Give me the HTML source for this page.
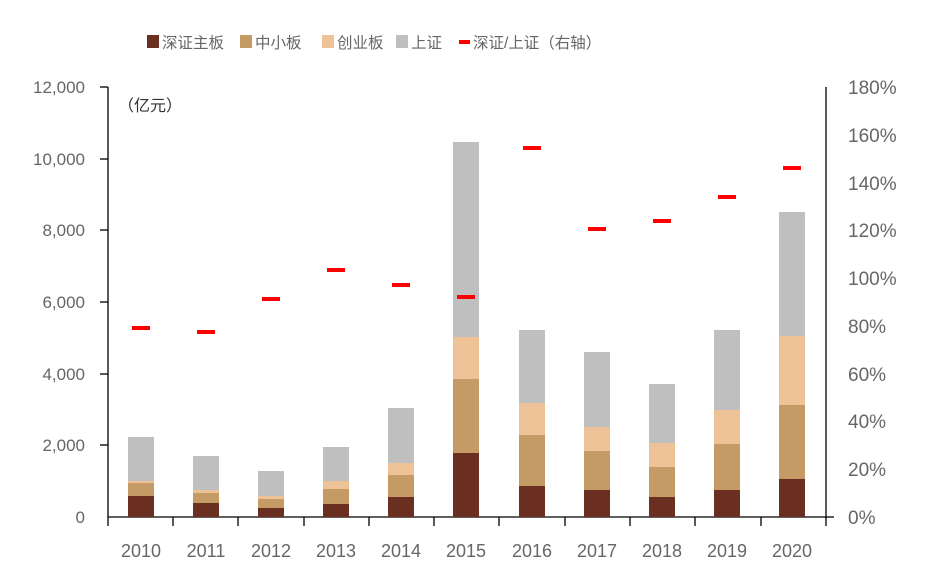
<!DOCTYPE html>
<html><head><meta charset="utf-8"><style>
body{margin:0;background:#fff;}
svg text{font-family:"Liberation Sans","Noto Sans CJK SC",sans-serif;fill:#666;}
</style></head><body>
<svg width="940" height="571" viewBox="0 0 940 571" xmlns="http://www.w3.org/2000/svg">
<g font-size="15.5">
<rect x="147" y="35" width="12" height="13" fill="#6a2f20"/><text x="162" y="48">深证主板</text>
<rect x="240" y="35" width="12" height="13" fill="#c49a65"/><text x="255" y="48">中小板</text>
<rect x="322" y="35" width="12" height="13" fill="#edc297"/><text x="337" y="48">创业板</text>
<rect x="396" y="35" width="12" height="13" fill="#bfbfbf"/><text x="411" y="48">上证</text>
<rect x="459" y="40" width="11" height="4" fill="#ff0000"/><text x="473" y="48">深证/上证（右轴）</text>
</g>
<text x="118" y="111" font-size="16" style="fill:#333">（亿元）</text>
<g stroke="#000" stroke-width="1.3" fill="none">
<line x1="108" y1="87" x2="108" y2="517"/>
<line x1="100" y1="87" x2="108" y2="87"/>
<line x1="100" y1="159" x2="108" y2="159"/>
<line x1="100" y1="230" x2="108" y2="230"/>
<line x1="100" y1="302" x2="108" y2="302"/>
<line x1="100" y1="374" x2="108" y2="374"/>
<line x1="100" y1="445" x2="108" y2="445"/>
<line x1="826" y1="87" x2="826" y2="517"/>
<line x1="826" y1="517" x2="834" y2="517"/>
<line x1="108" y1="517" x2="826" y2="517"/>
<line x1="108" y1="517" x2="108" y2="526"/><line x1="173" y1="517" x2="173" y2="526"/><line x1="238" y1="517" x2="238" y2="526"/><line x1="304" y1="517" x2="304" y2="526"/><line x1="369" y1="517" x2="369" y2="526"/><line x1="434" y1="517" x2="434" y2="526"/><line x1="499" y1="517" x2="499" y2="526"/><line x1="565" y1="517" x2="565" y2="526"/><line x1="630" y1="517" x2="630" y2="526"/><line x1="695" y1="517" x2="695" y2="526"/><line x1="761" y1="517" x2="761" y2="526"/><line x1="826" y1="517" x2="826" y2="526"/>
</g>
<g font-size="17" text-anchor="end">
<text x="85" y="93">12,000</text><text x="85" y="165">10,000</text><text x="85" y="236">8,000</text><text x="85" y="308">6,000</text><text x="85" y="380">4,000</text><text x="85" y="451">2,000</text><text x="85" y="523">0</text>
</g>
<g font-size="19">
<text x="848" y="94">180%</text><text x="848" y="142">160%</text><text x="848" y="190">140%</text><text x="848" y="237">120%</text><text x="848" y="285">100%</text><text x="848" y="333">80%</text><text x="848" y="381">60%</text><text x="848" y="428">40%</text><text x="848" y="476">20%</text><text x="848" y="524">0%</text>
</g>
<g font-size="18" text-anchor="middle">
<text x="141" y="557">2010</text><text x="206" y="557">2011</text><text x="271" y="557">2012</text><text x="336" y="557">2013</text><text x="401" y="557">2014</text><text x="466" y="557">2015</text><text x="532" y="557">2016</text><text x="597" y="557">2017</text><text x="662" y="557">2018</text><text x="727" y="557">2019</text><text x="792" y="557">2020</text>
</g>
<g>
<rect x="128" y="496" width="26" height="21" fill="#6a2f20"/><rect x="128" y="483" width="26" height="13" fill="#c49a65"/><rect x="128" y="481" width="26" height="2" fill="#edc297"/><rect x="128" y="437" width="26" height="44" fill="#bfbfbf"/>
<rect x="193" y="503" width="26" height="14" fill="#6a2f20"/><rect x="193" y="493" width="26" height="10" fill="#c49a65"/><rect x="193" y="490" width="26" height="3" fill="#edc297"/><rect x="193" y="456" width="26" height="34" fill="#bfbfbf"/>
<rect x="258" y="508" width="26" height="9" fill="#6a2f20"/><rect x="258" y="499" width="26" height="9" fill="#c49a65"/><rect x="258" y="496" width="26" height="3" fill="#edc297"/><rect x="258" y="471" width="26" height="25" fill="#bfbfbf"/>
<rect x="323" y="504" width="26" height="13" fill="#6a2f20"/><rect x="323" y="489" width="26" height="15" fill="#c49a65"/><rect x="323" y="481" width="26" height="8" fill="#edc297"/><rect x="323" y="447" width="26" height="34" fill="#bfbfbf"/>
<rect x="388" y="497" width="26" height="20" fill="#6a2f20"/><rect x="388" y="475" width="26" height="22" fill="#c49a65"/><rect x="388" y="463" width="26" height="12" fill="#edc297"/><rect x="388" y="408" width="26" height="55" fill="#bfbfbf"/>
<rect x="453" y="453" width="26" height="64" fill="#6a2f20"/><rect x="453" y="379" width="26" height="74" fill="#c49a65"/><rect x="453" y="337" width="26" height="42" fill="#edc297"/><rect x="453" y="142" width="26" height="195" fill="#bfbfbf"/>
<rect x="519" y="486" width="26" height="31" fill="#6a2f20"/><rect x="519" y="435" width="26" height="51" fill="#c49a65"/><rect x="519" y="403" width="26" height="32" fill="#edc297"/><rect x="519" y="330" width="26" height="73" fill="#bfbfbf"/>
<rect x="584" y="490" width="26" height="27" fill="#6a2f20"/><rect x="584" y="451" width="26" height="39" fill="#c49a65"/><rect x="584" y="427" width="26" height="24" fill="#edc297"/><rect x="584" y="352" width="26" height="75" fill="#bfbfbf"/>
<rect x="649" y="497" width="26" height="20" fill="#6a2f20"/><rect x="649" y="467" width="26" height="30" fill="#c49a65"/><rect x="649" y="443" width="26" height="24" fill="#edc297"/><rect x="649" y="384" width="26" height="59" fill="#bfbfbf"/>
<rect x="714" y="490" width="26" height="27" fill="#6a2f20"/><rect x="714" y="444" width="26" height="46" fill="#c49a65"/><rect x="714" y="410" width="26" height="34" fill="#edc297"/><rect x="714" y="330" width="26" height="80" fill="#bfbfbf"/>
<rect x="779" y="479" width="26" height="38" fill="#6a2f20"/><rect x="779" y="405" width="26" height="74" fill="#c49a65"/><rect x="779" y="336" width="26" height="69" fill="#edc297"/><rect x="779" y="212" width="26" height="124" fill="#bfbfbf"/>
</g>
<g fill="#ff0000">
<rect x="132" y="326" width="18" height="4"/><rect x="197" y="330" width="18" height="4"/><rect x="262" y="297" width="18" height="4"/><rect x="327" y="268" width="18" height="4"/><rect x="392" y="283" width="18" height="4"/><rect x="457" y="295" width="18" height="4"/><rect x="523" y="146" width="18" height="4"/><rect x="588" y="227" width="18" height="4"/><rect x="653" y="219" width="18" height="4"/><rect x="718" y="195" width="18" height="4"/><rect x="783" y="166" width="18" height="4"/>
</g>
</svg>
</body></html>
